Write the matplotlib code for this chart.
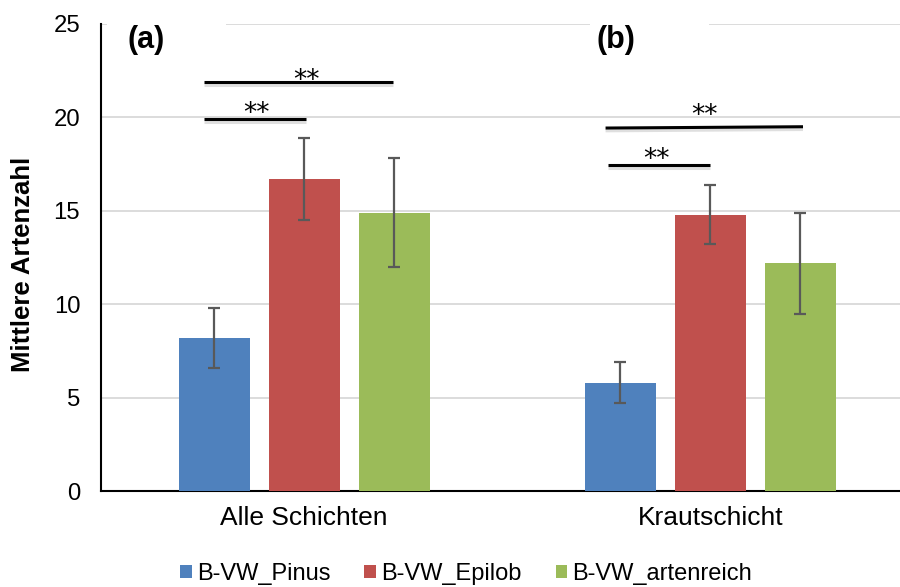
import matplotlib
matplotlib.use("Agg")
import matplotlib.pyplot as plt
import matplotlib.patheffects as pe
from matplotlib.patches import Rectangle
import numpy as np

plt.rcParams['font.family'] = ['Liberation Sans', 'DejaVu Sans']

# ---- Daten ----
categories = ['Alle Schichten', 'Krautschicht']
series = ['B-VW_Pinus', 'B-VW_Epilob', 'B-VW_artenreich']
colors = ['#4F81BD', '#C0504D', '#9BBB59']
means = [
    [8.2, 5.8],    # Pinus
    [16.7, 14.8],  # Epilob
    [14.9, 12.2],  # artenreich
]
errors = [
    [1.6, 1.1],
    [2.2, 1.6],
    [2.9, 2.7],
]
panel_labels = ['(a)', '(b)']

# Signifikanz-Linien: (x0, x1, y0, y1), Sterne bei (x, y)
sig_lines = [(-0.2475, 0.004, 19.92, 19.92),
             (-0.2475, 0.218, 21.87, 21.87),
             (0.742, 1.228, 19.43, 19.50),
             (0.749, 0.999, 17.46, 17.46)]
sig_stars = [(-0.117, 20.2), (0.006, 21.95), (0.986, 20.05), (0.8675, 17.7)]

# ---- Plot ----
fig = plt.figure(figsize=(9, 5.87), dpi=100)
ax = fig.add_axes([101 / 900, 96 / 587, 812.5 / 900, 467 / 587])

x = np.arange(len(categories))
width = 0.175
step = 0.2217
for i, s in enumerate(series):
    ax.bar(x + (i - 1) * step, means[i], width, color=colors[i], label=s, zorder=3,
           yerr=errors[i], error_kw=dict(ecolor='#595959', elinewidth=1.6,
                                         capsize=4, capthick=1.6, zorder=4))

ax.set_xlim(-0.5, 1.5)
ax.set_ylim(0, 25)
ax.set_yticks(range(0, 26, 5))
ax.set_xticks(x)
ax.set_xticklabels(categories, fontsize=19)
ax.tick_params(axis='y', labelsize=17.2, length=0, pad=15)
ax.tick_params(axis='x', length=0, pad=11)
ax.grid(axis='y', color='#d9d9d9', linewidth=1.3, zorder=0)
ax.set_axisbelow(True)
for sp in ['top', 'right']:
    ax.spines[sp].set_visible(False)
ax.spines['left'].set_linewidth(1.5)
ax.spines['bottom'].set_linewidth(1.5)

# weisse Kaesten hinter (a) / (b)
for x0, x1 in [(-0.486, -0.193), (0.703, 0.996)]:
    ax.add_patch(Rectangle((x0, 23.3), x1 - x0, 2.3, facecolor='white',
                           edgecolor='none', zorder=5, clip_on=False))
ax.text(-0.39, 24.15, panel_labels[0], fontsize=22, fontweight='bold',
        ha='center', va='center', zorder=6)
ax.text(0.767, 24.15, panel_labels[1], fontsize=22, fontweight='bold',
        ha='center', va='center', zorder=6)

shadow = [pe.SimpleLineShadow(offset=(0, -2), shadow_color='gray', alpha=0.25),
          pe.Normal()]
for x0, x1, y0, y1 in sig_lines:
    ax.plot([x0, x1], [y0, y1], color='black', linewidth=2.2, zorder=6,
            solid_capstyle='butt', path_effects=shadow)
for sx, sy in sig_stars:
    ax.text(sx, sy, '**', fontsize=19, family='DejaVu Sans',
            ha='center', va='center', zorder=6)

fig.text(23 / 900, 1 - 264 / 587, 'Mittlere Artenzahl', rotation=90,
         fontsize=18.5, fontweight='bold', ha='center', va='center')

fig.legend(loc='center', bbox_to_anchor=(466 / 900, 13 / 587), ncol=3,
           fontsize=17, frameon=False, handlelength=0.5, handleheight=0.5,
           handletextpad=0.2, columnspacing=1.45, borderaxespad=0, borderpad=0)

fig.savefig('out.png', dpi=100)
